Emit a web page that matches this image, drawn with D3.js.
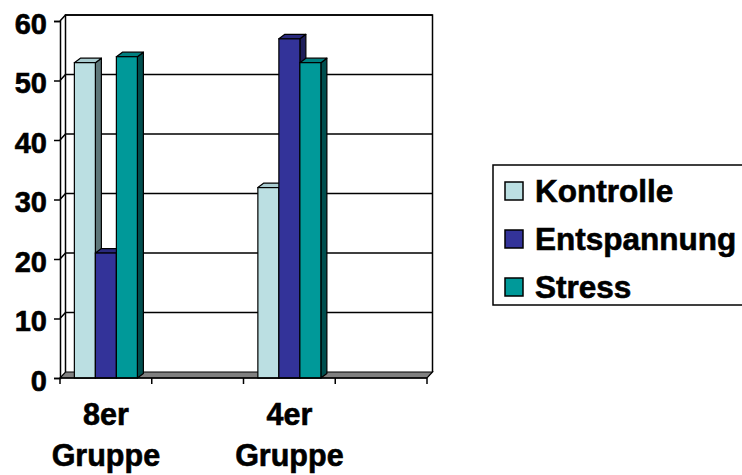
<!DOCTYPE html>
<html>
<head>
<meta charset="utf-8">
<script src="https://cdn.jsdelivr.net/npm/d3@7"></script>
<style>
  html, body { margin: 0; padding: 0; background: #ffffff; }
  svg { display: block; }
  text { font-family: "Liberation Sans", Arial, sans-serif; font-weight: bold; fill: #000; stroke: #000; stroke-width: 0.6px; }
</style>
</head>
<body>
<svg id="chart" width="742" height="475"></svg>
<script>
// Group categories (blank slots keep the spacing of the original layout)
const categories = ["8er Gruppe", "", "4er Gruppe", ""];
const seriesNames = ["Kontrolle", "Entspannung", "Stress"];
const kontrolle = [53, null, 32, null];
const entspannung = [21, null, 57, null];
const stress = [54, null, 53, null];
const yTicks = [0, 10, 20, 30, 40, 50, 60];

const seriesValues = [kontrolle, entspannung, stress];
const faceColors = {
  Kontrolle:   { front: "#bbdfe2", top: "#a9ccd0", side: "#5e7779" },
  Entspannung: { front: "#333399", top: "#2a2a7e", side: "#1e1e5a" },
  Stress:      { front: "#009999", top: "#008080", side: "#004f4f" }
};

const svg = d3.select("#chart");

// Front plane of the plot box
const plotLeft = 60, plotRight = 427, plotBottom = 378, plotTop = 21;
// Offset of the back wall relative to the front plane
const wallDx = 5.5, wallDy = -6;
// Depth of each column
const barDx = 6, barDy = -4.5;

const y = d3.scaleLinear().domain([0, 60]).range([plotBottom, plotTop]);
const x = d3.scaleBand().domain(d3.range(categories.length)).range([plotLeft, plotRight]).paddingInner(0).paddingOuter(0);
const xInner = d3.scaleBand().domain(seriesNames).range([0, x.bandwidth()]).paddingInner(0).paddingOuter(0.684);

const line = d3.line();
const g = svg.append("g");

// Back wall gridlines and their continuation across the side wall
yTicks.forEach(t => {
  const yf = y(t), yb = y(t) + wallDy;
  if (t > 0) {
    g.append("path")
      .attr("d", line([[plotLeft, yf], [plotLeft + wallDx, yb], [plotRight + wallDx, yb]]))
      .attr("fill", "none").attr("stroke", "#000").attr("stroke-width", 1.5);
  }
});
// Back wall outline
g.append("path")
  .attr("d", line([[plotLeft + wallDx, y(0) + wallDy], [plotLeft + wallDx, y(60) + wallDy], [plotRight + wallDx, y(60) + wallDy], [plotRight + wallDx, y(0) + wallDy]]))
  .attr("fill", "none").attr("stroke", "#000").attr("stroke-width", 1.5);

// Grey floor
g.append("path")
  .attr("d", line([[plotLeft, y(0)], [plotRight, y(0)], [plotRight + wallDx, y(0) + wallDy], [plotLeft + wallDx, y(0) + wallDy]]) + "Z")
  .attr("fill", "#808080").attr("stroke", "#000").attr("stroke-width", 1.2);

// 3-D columns: front, top and right side faces
const bars = [];
categories.forEach((c, i) => {
  seriesNames.forEach((s, k) => {
    const v = seriesValues[k][i];
    if (v == null) return;
    bars.push({ i, s, v });
  });
});
const barG = g.append("g").selectAll("g").data(bars).join("g");
barG.each(function(d) {
  const sel = d3.select(this);
  const x0 = x(d.i) + xInner(d.s), x1 = x0 + xInner.bandwidth();
  const y0 = y(0), y1 = y(d.v);
  const col = faceColors[d.s];
  sel.append("path")
    .attr("d", line([[x1, y0], [x1, y1], [x1 + barDx, y1 + barDy], [x1 + barDx, y0 + barDy]]) + "Z")
    .attr("fill", col.side).attr("stroke", "#000").attr("stroke-width", 1.2).attr("stroke-linejoin", "round");
  sel.append("path")
    .attr("d", line([[x0, y1], [x1, y1], [x1 + barDx, y1 + barDy], [x0 + barDx, y1 + barDy]]) + "Z")
    .attr("fill", col.top).attr("stroke", "#000").attr("stroke-width", 1.2).attr("stroke-linejoin", "round");
  sel.append("rect")
    .attr("x", x0).attr("y", y1).attr("width", x1 - x0).attr("height", y0 - y1)
    .attr("fill", col.front).attr("stroke", "#000").attr("stroke-width", 1.2);
});

// Value axis on the front-left edge
const yAxis = d3.axisLeft(y).tickValues(yTicks).tickSize(6).tickPadding(7);
const yAx = svg.append("g").attr("transform", `translate(${plotLeft},0)`).call(yAxis);
yAx.select(".domain").attr("stroke", "#000").attr("stroke-width", 1.5);
yAx.selectAll(".tick line").attr("stroke", "#000").attr("stroke-width", 1.5);
yAx.selectAll(".tick text")
  .attr("font-size", 29).attr("font-family", "Liberation Sans, Arial, sans-serif")
  .attr("font-weight", "bold").attr("fill", "#000").attr("dy", "0.42em");

// Category axis on the front edge, ticks at slot boundaries
svg.append("line").attr("x1", plotLeft).attr("x2", plotRight).attr("y1", plotBottom).attr("y2", plotBottom)
  .attr("stroke", "#000").attr("stroke-width", 1.5);
const boundaries = d3.range(categories.length + 1).map(i => i < categories.length ? x(i) : plotRight);
svg.append("g").selectAll("line").data(boundaries).join("line")
  .attr("x1", d => d).attr("x2", d => d).attr("y1", plotBottom).attr("y2", plotBottom + 6)
  .attr("stroke", "#000").attr("stroke-width", 1.5);
const catLabels = svg.append("g").selectAll("text").data(categories.map((c, i) => ({ c, i })).filter(d => d.c))
  .join("text")
  .attr("text-anchor", "middle").attr("font-size", 30.5);
catLabels.each(function(d) {
  const words = d.c.split(" ");
  const cx = x(d.i) + x.bandwidth() / 2;
  d3.select(this).selectAll("tspan").data(words).join("tspan")
    .attr("x", cx).attr("y", (w, j) => 425 + j * 41).text(w => w);
});

// Legend
const legend = svg.append("g");
legend.append("rect").attr("x", 493).attr("y", 165).attr("width", 260).attr("height", 140)
  .attr("fill", "#fff").attr("stroke", "#000").attr("stroke-width", 1.5);
const legItems = legend.selectAll("g.item").data(seriesNames).join("g").attr("class", "item")
  .attr("transform", (d, i) => `translate(0, ${191 + i * 48})`);
legItems.append("rect").attr("x", 505).attr("y", -9).attr("width", 18).attr("height", 18)
  .attr("fill", d => faceColors[d].front).attr("stroke", "#000").attr("stroke-width", 1.5);
legItems.append("text").attr("x", 535).attr("y", 11).attr("font-size", 31.5).text(d => d);
</script>
</body>
</html>
